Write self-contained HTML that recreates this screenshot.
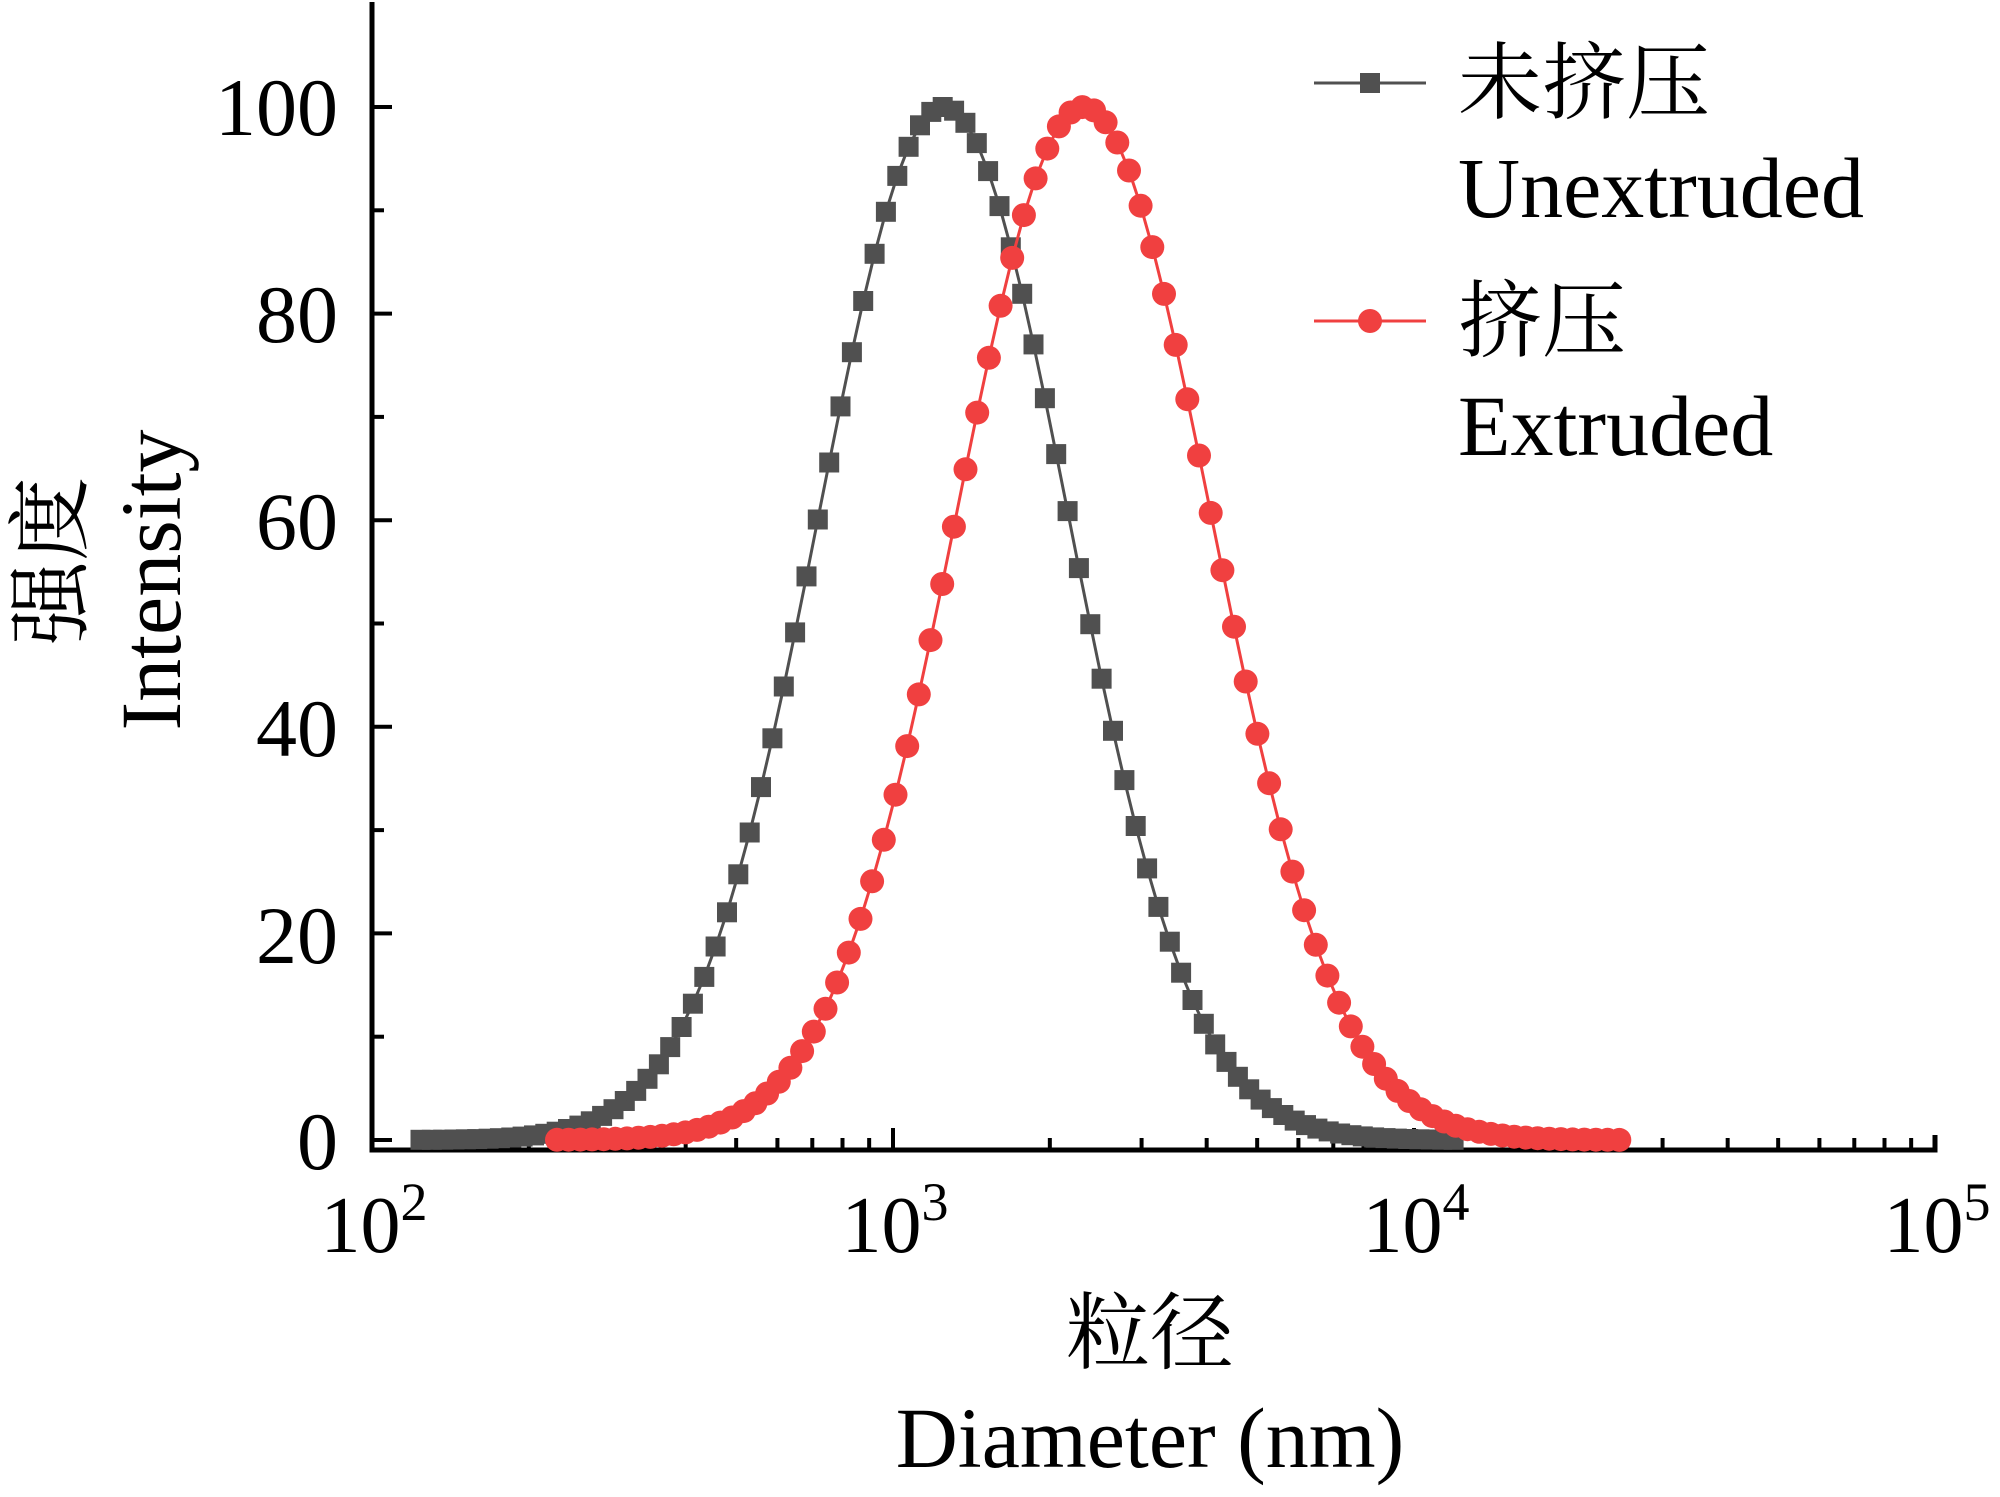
<!DOCTYPE html>
<html><head><meta charset="utf-8"><style>
html,body{margin:0;padding:0;background:#fff;}
svg{display:block;}
text{font-family:"Liberation Serif","Noto Serif CJK SC",serif;fill:#000;}
</style></head><body>
<svg id="s" width="2000" height="1497" viewBox="0 0 2000 1497" xmlns="http://www.w3.org/2000/svg">
<g id="ticks" stroke="#000" stroke-width="4"></g>
<path d="M372,2 L372,1150 L1935,1150 L1935,1135" fill="none" stroke="#000" stroke-width="5"/>
<g id="series"></g>
<g font-size="82" text-anchor="end">
<text x="338" y="135">100</text>
<text x="338" y="342">80</text>
<text x="338" y="549">60</text>
<text x="338" y="756">40</text>
<text x="338" y="963">20</text>
<text x="338" y="1169">0</text>
</g>
<g font-size="80">
<text x="374" y="1252" text-anchor="middle">10<tspan font-size="54" dy="-32">2</tspan></text>
<text x="895" y="1252" text-anchor="middle">10<tspan font-size="54" dy="-32">3</tspan></text>
<text x="1416" y="1252" text-anchor="middle">10<tspan font-size="54" dy="-32">4</tspan></text>
<text x="1937" y="1252" text-anchor="middle">10<tspan font-size="54" dy="-32">5</tspan></text>
</g>
<text x="1150" y="1362" font-size="84" text-anchor="middle">粒径</text>
<text x="1150" y="1467" font-size="86" text-anchor="middle">Diameter (nm)</text>
<text transform="translate(180,580) rotate(-90)" font-size="86" text-anchor="middle">Intensity</text>
<text transform="translate(80,561) rotate(-90)" font-size="84" text-anchor="middle">强度</text>
<g>
<line x1="1314" y1="83" x2="1426" y2="83" stroke="#505050" stroke-width="3"/>
<rect x="1360" y="73" width="20" height="20" fill="#505050"/>
<text x="1458" y="112" font-size="84">未挤压</text>
<text x="1458" y="217" font-size="86">Unextruded</text>
<line x1="1314" y1="321" x2="1426" y2="321" stroke="#f04040" stroke-width="3"/>
<circle cx="1370" cy="321" r="12" fill="#f04040"/>
<text x="1458" y="350" font-size="84">挤压</text>
<text x="1458" y="455" font-size="86">Extruded</text>
</g>
</svg>
<script>
(function(){
var X0=372,D=521,Y0=1140,YS=10.33;
function X(l){return X0+(l-2)*D;}
function Y(v){return Y0-v*YS;}
var t=document.getElementById("ticks"),h="";
for(var v=0;v<=100;v+=10){var y=Y(v);h+='<line x1="372" y1="'+y+'" x2="'+(v%20==0?392:384)+'" y2="'+y+'"/>';}
for(var d=2;d<5;d++){for(var k=1;k<10;k++){var x=X(d+Math.log10(k));h+='<line x1="'+x+'" y1="1150" x2="'+x+'" y2="'+(k==1?1128:1138)+'"/>';}}
t.innerHTML=h;
var s=document.getElementById("series"),g="";
function ser(a,b,mu,sig,col,sq){
 var n=92,p="",m="";
 for(var i=0;i<n;i++){var l=a+(b-a)*i/(n-1);var v=100*Math.exp(-0.5*Math.pow((l-mu)/sig,2));var x=X(l),y=Y(v);
  p+=(i?"L":"M")+x.toFixed(1)+","+y.toFixed(1);
  if(sq)m+='<rect x="'+(x-10).toFixed(1)+'" y="'+(y-10).toFixed(1)+'" width="20" height="20" fill="'+col+'"/>';
  else m+='<circle cx="'+x.toFixed(1)+'" cy="'+y.toFixed(1)+'" r="12" fill="'+col+'"/>';}
 return '<path d="'+p+'" fill="none" stroke="'+col+'" stroke-width="3"/>'+m;}
g+=ser(2.093,4.076,3.097,0.239,"#505050",true);
g+=ser(2.355,4.394,3.366,0.244,"#f04040",false);
s.innerHTML=g;
})();
</script>
</body></html>
